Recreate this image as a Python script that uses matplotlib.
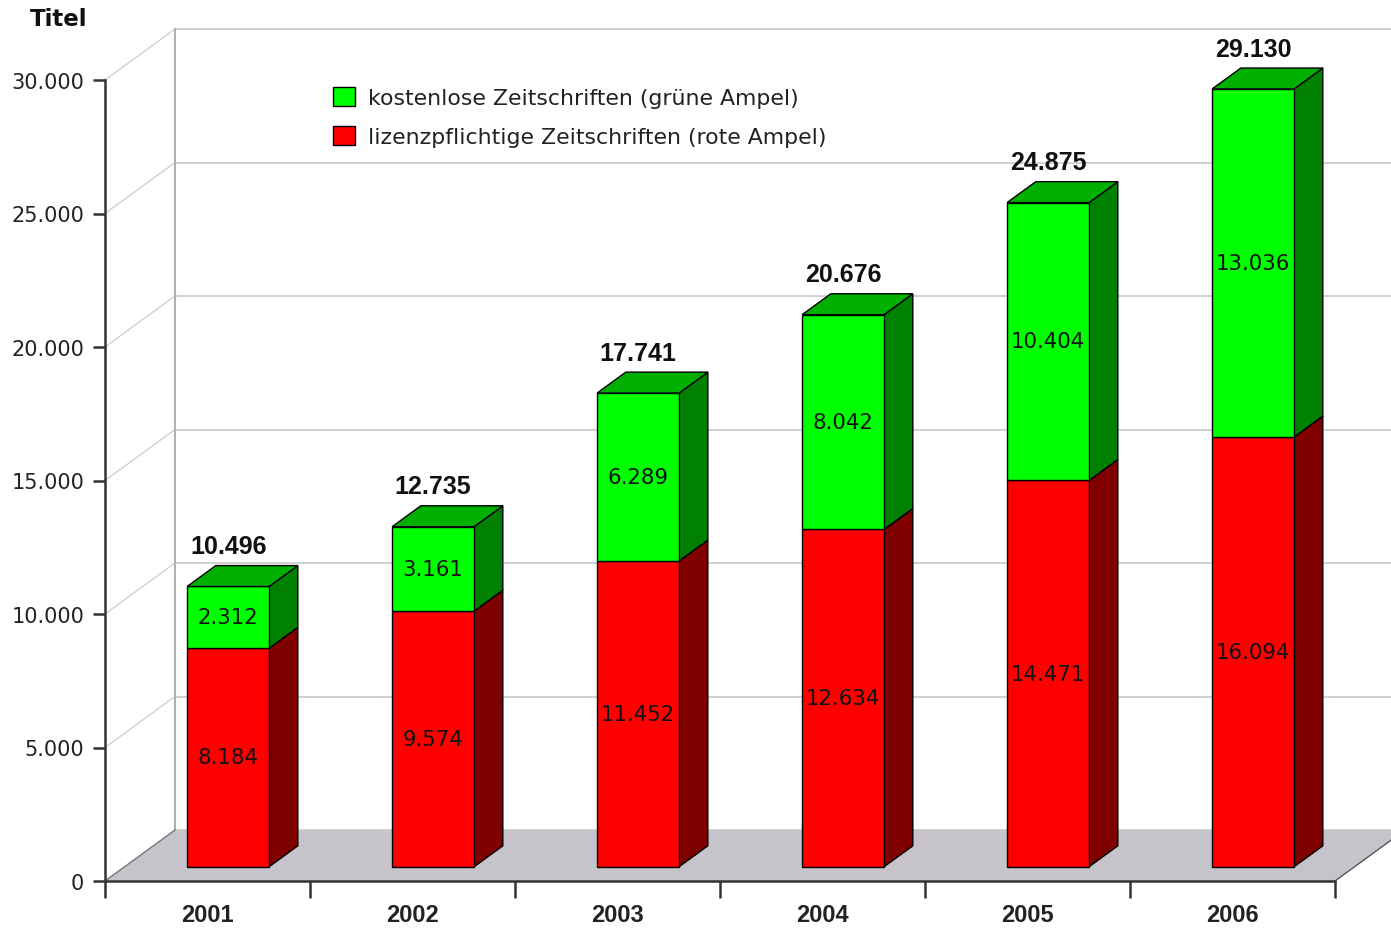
import matplotlib
matplotlib.use("Agg")
from matplotlib import pyplot as plt
from matplotlib.patches import Polygon, Patch

years = ['2001', '2002', '2003', '2004', '2005', '2006']
lizenz = [8184, 9574, 11452, 12634, 14471, 16094]      # rote Ampel
kostenlos = [2312, 3161, 6289, 8042, 10404, 13036]     # grüne Ampel
labels = ['kostenlose Zeitschriften (grüne Ampel)',
          'lizenzpflichtige Zeitschriften (rote Ampel)']
yticks = [0, 5000, 10000, 15000, 20000, 25000, 30000]


def de(v):
    return f'{v:,}'.replace(',', '.')


W, H = 1391, 929
fig = plt.figure(figsize=(W / 100, H / 100), dpi=100)
ax = fig.add_axes([105 / W, (H - 882) / H, 1230 / W, 801 / H])
ax.set_xlim(0, 6)
ax.set_ylim(0, 30000)

# fake 3d depth (data units)
DX = 70 / 205
DY = 51 * 30000 / 801


def P(x, y, d):
    return (x + d * DX, y + d * DY)


def poly(pts, color, z, ec='black', lw=1.0):
    ax.add_patch(Polygon(pts, closed=True, facecolor=color, edgecolor=ec,
                         lw=lw, zorder=z, clip_on=False))


# floor
poly([P(0, 0, 0), P(6, 0, 0), P(6, 0, 1), P(0, 0, 1)], '#c6c4ca', 1, ec='none')
ax.plot([6, 6 + DX], [0, DY], color='#555555', lw=1, clip_on=False, zorder=2)
ax.plot([0, DX], [0, DY], color='#777777', lw=1, clip_on=False, zorder=2)

# walls / grid
for v in yticks:
    ax.plot([DX, 6 + DX], [v + DY, v + DY], color='#c8c8c8', lw=1.2,
            clip_on=False, zorder=1.5)
    if v > 0:
        ax.plot([0, DX], [v, v + DY], color='#d0d0d0', lw=1,
                clip_on=False, zorder=1.5)
ax.plot([DX, DX], [DY, 30000 + DY], color='#b0b0b0', lw=1.5,
        clip_on=False, zorder=1.5)

# bars
x_off, bw = 0.305, 0.4
d0, d1 = 0.28, 0.69
for i in range(len(years)):
    x0, x1 = i + x_off, i + x_off + bw
    r, g = lizenz[i], kostenlos[i]
    tot = r + g
    # red segment
    poly([P(x1, 0, d0), P(x1, 0, d1), P(x1, r, d1), P(x1, r, d0)], '#800000', 5)
    poly([P(x0, 0, d0), P(x1, 0, d0), P(x1, r, d0), P(x0, r, d0)], '#ff0000', 5)
    # green segment
    poly([P(x1, r, d0), P(x1, r, d1), P(x1, tot, d1), P(x1, tot, d0)], '#008000', 6)
    poly([P(x0, r, d0), P(x1, r, d0), P(x1, tot, d0), P(x0, tot, d0)], '#00ff00', 6)
    poly([P(x0, tot, d0), P(x1, tot, d0), P(x1, tot, d1), P(x0, tot, d1)], '#00b000', 6)

    cx, _ = P((x0 + x1) / 2, 0, d0)
    cy0 = r / 2 + d0 * DY
    cy1 = r + g / 2 + d0 * DY
    ax.text(cx, cy0, de(r), ha='center', va='center', fontsize=15.3,
            color='#111111', zorder=10)
    ax.text(cx, cy1, de(g), ha='center', va='center', fontsize=15.3,
            color='#111111', zorder=10)
    ax.annotate(de(tot), xy=(cx, tot + d1 * DY), xytext=(0, 9),
                textcoords='offset points', ha='center', va='baseline',
                fontsize=18, fontweight='bold', family='Liberation Sans',
                color='#111111', zorder=10, annotation_clip=False)

# axes
for s in ['top', 'right']:
    ax.spines[s].set_visible(False)
for s in ['left', 'bottom']:
    ax.spines[s].set_color('#333333')
    ax.spines[s].set_linewidth(1.8)
    ax.spines[s].set_zorder(3)
ax.set_yticks(yticks)
ax.set_yticklabels([de(v) for v in yticks], fontsize=15, color='#222222')
ax.tick_params(axis='y', length=9, width=1.8, color='#333333', pad=6)
ax.set_xticks(range(7))
ax.set_xticklabels([])
ax.tick_params(axis='x', which='major', length=12, width=1.8, color='#333333')
ax.set_xticks([i + 0.5 for i in range(6)], minor=True)
ax.set_xticklabels(years, minor=True, fontsize=17, fontweight='bold',
                   family='Liberation Sans', color='#222222')
ax.tick_params(axis='x', which='minor', length=0, pad=16)
ax.patch.set_visible(False)

fig.text(30 / W, 1 - 20 / H, 'Titel', fontsize=16.5, fontweight='bold',
         ha='left', va='center', color='#111111')

handles = [Patch(facecolor='#00ff00', edgecolor='black', lw=1),
           Patch(facecolor='#ff0000', edgecolor='black', lw=1)]
leg = fig.legend(handles, labels, loc='upper left',
                 bbox_to_anchor=(313 / W, 1 - 68 / H), frameon=False,
                 fontsize=15.8, handlelength=1.0, handleheight=1.0,
                 handletextpad=0.6, labelspacing=0.8)
for t in leg.get_texts():
    t.set_color('#222222')

fig.savefig('out.png', dpi=100)
